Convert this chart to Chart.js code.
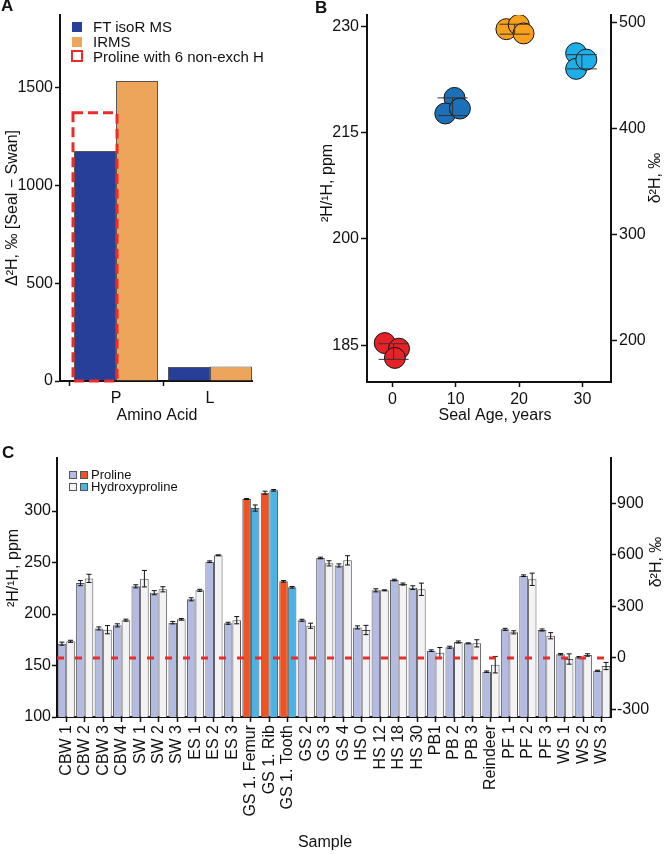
<!DOCTYPE html>
<html><head><meta charset="utf-8">
<script src="https://cdn.jsdelivr.net/npm/chart.js@4.4.1/dist/chart.umd.min.js"></script>
<style>
body{margin:0;width:666px;height:854px;position:relative;background:#fff;font-family:'Liberation Sans',Arial,sans-serif;overflow:hidden;color:#111}
canvas{position:absolute}
.abs{position:absolute;white-space:nowrap}
.letter{font-weight:bold;font-size:17px;line-height:17px}
.sq{position:absolute;box-sizing:border-box}
</style></head>
<body>
<canvas id="cA" width="280" height="430" style="left:0;top:0;width:280px;height:430px"></canvas>
<canvas id="cB" width="386" height="430" style="left:280px;top:0;width:386px;height:430px"></canvas>
<canvas id="cC" width="666" height="424" style="left:0;top:430px;width:666px;height:424px"></canvas>

<div class="abs letter" style="left:1px;top:-3px">A</div>
<div class="abs letter" style="left:315px;top:-1px">B</div>
<div class="abs letter" style="left:2px;top:444px">C</div>

<!-- Legend A -->
<div class="sq" style="left:72px;top:22px;width:10px;height:10px;background:#283f99"></div>
<div class="sq" style="left:72px;top:37px;width:10px;height:10px;background:#eda55c"></div>
<div class="sq" style="left:71px;top:50px;width:12px;height:12px;border:2px dashed #ee2a2a"></div>
<div class="abs" style="left:93px;top:18px;font-size:15px;line-height:18px">FT isoR MS</div>
<div class="abs" style="left:93px;top:33px;font-size:15px;line-height:18px">IRMS</div>
<div class="abs" style="left:93px;top:48px;font-size:15px;line-height:18px">Proline with 6 non-exch H</div>

<!-- Legend C -->
<div class="sq" style="left:69px;top:471px;width:8px;height:8px;background:#b4bbe2;border:1px solid #555"></div>
<div class="sq" style="left:80px;top:471px;width:8px;height:8px;background:#f05323;border:1px solid #555"></div>
<div class="sq" style="left:69px;top:483px;width:8px;height:8px;background:#f3f3f3;border:1px solid #555"></div>
<div class="sq" style="left:80px;top:483px;width:8px;height:8px;background:#4bb3e3;border:1px solid #555"></div>
<div class="abs" style="left:91px;top:468px;font-size:13px;line-height:14px">Proline</div>
<div class="abs" style="left:91px;top:480px;font-size:13px;line-height:14px">Hydroxyproline</div>

<script>
// ---------- Panel A data ----------
const aminoAcids = ['P', 'L'];
const ftIsoR = [1175, 72];
const irms = [1533, 74];
const prolineSixH = 1370;
const aTicks = [0, 500, 1000, 1500];

// ---------- Panel B data ----------
const age0x = [-1.2, 1.05, 0.4];
const age0y = [185.3, 184.5, 183.2];
const age10x = [9.8, 8.35, 10.66];
const age10y = [219.9, 217.7, 218.4];
const age20x = [18.0, 19.95, 20.7];
const age20y = [229.6, 230.2, 229.0];
const age30x = [29.0, 29.0, 30.6];
const age30y = [226.2, 224.0, 225.3];
const bMeanAge = [0.2, 9.5, 19.3, 29.9];
const bMeanPpm = [184.1, 218.65, 229.6, 225.0];
const bSd = [1.1, 1.25, 0.7, 1.0];
const bXTicks = [0, 10, 20, 30];
const bYTicks = [185, 200, 215, 230];
const bY2Ticks = [200, 300, 400, 500];

// ---------- Panel C data ----------
const samples = ['CBW 1','CBW 2','CBW 3','CBW 4','SW 1','SW 2','SW 3','ES 1','ES 2','ES 3',
  'GS 1. Femur','GS 1. Rib','GS 1. Tooth','GS 2','GS 3','GS 4','HS 0','HS 12','HS 18','HS 30',
  'PB1','PB 2','PB 3','Reindeer','PF 1','PF 2','PF 3','WS 1','WS 2','WS 3'];
const highlighted = ['GS 1. Femur','GS 1. Rib','GS 1. Tooth'];
const prolinePpm = [171.2,230,186,189,226.9,220.7,191.6,214.3,250.8,191,
  311.7,317.8,231.7,193.9,254.4,247.2,187,223,233,225.6,
  164.4,167.7,171.5,144,185.1,237.2,184.5,160.9,158,144.9];
const prolineErr = [1.5,2.5,1.5,1.5,1.5,2,1.2,1.5,0.8,1,
  0.5,1.5,0.8,1,0.8,1.5,1.5,1.5,0.8,1.8,
  0.8,1,0.5,0.7,1,0.8,1,0.7,0.7,0.5];
const hypPpm = [173.5,234.6,184.8,194,234.3,224,194.8,223,257,194,
  302.9,320.1,225.9,188.6,249.2,252.1,184.5,223,229.1,224,
  162.5,172.8,171.5,150.8,182.2,233.7,178.9,156.3,160.2,149.5];
const hypErr = [1,4,4,1,8,2.5,0.8,1,0.5,3.5,
  3,0.8,0.8,2.5,2.5,4.5,4.5,0.5,1,6,
  5,1,3.5,8,1.5,6,3,5,1.2,3.5];
const cYTicks = [100, 150, 200, 250, 300];
const cY2Ticks = [-300, 0, 300, 600, 900];
const deltaRef = 0;

// ---------- common ----------
const FONT = "'Liberation Sans', Arial, sans-serif";
Chart.defaults.font.family = FONT;
Chart.defaults.color = '#111';
const INK = '#111';
const plain = v => String(v);

function fixedTicks(list) { return s => { s.ticks = list.map(v => ({ value: v })); }; }
function axisStyle(extra) {
  return Object.assign({
    grid: { display: true, drawOnChartArea: false, drawTicks: true, tickLength: 5, color: INK, tickWidth: 1.5 },
    border: { display: true, color: INK, width: 2 },
  }, extra);
}
function textPlugin(items) {
  return {
    id: 'texts',
    afterDraw(chart) {
      const ctx = chart.ctx;
      items.forEach(t => {
        ctx.save();
        ctx.translate(t.x, t.y);
        if (t.rot) ctx.rotate(t.rot);
        ctx.font = (t.size || 16) + 'px ' + FONT;
        ctx.fillStyle = INK;
        ctx.textAlign = 'center';
        ctx.textBaseline = 'middle';
        ctx.fillText(t.text, 0, 0);
        ctx.restore();
      });
    }
  };
}

// ---------- Panel A ----------
const boxPlugin = {
  id: 'prolineBox',
  afterDatasetsDraw(chart) {
    const bar = chart.getDatasetMeta(0).data[0];
    const p = bar.getProps(['x', 'width'], true);
    const y = chart.scales.y;
    const top = y.getPixelForValue(prolineSixH);
    const bottom = y.getPixelForValue(0);
    const ctx = chart.ctx;
    ctx.save();
    ctx.strokeStyle = '#ee2a2a';
    ctx.lineWidth = 3;
    ctx.setLineDash([10, 5]);
    ctx.strokeRect(p.x - p.width / 2 - 1, top, p.width + 2, bottom - top);
    ctx.restore();
  }
};
new Chart(document.getElementById('cA'), {
  type: 'bar',
  data: {
    datasets: [
      { label: 'FT isoR MS', data: ftIsoR.map((v, i) => ({ x: i + 1, y: v })), backgroundColor: '#283f99', borderColor: '#555', borderWidth: 1, categoryPercentage: 0.894, barPercentage: 1 },
      { label: 'IRMS', data: irms.map((v, i) => ({ x: i + 1, y: v })), backgroundColor: '#eda55c', borderColor: '#555', borderWidth: 1, categoryPercentage: 0.894, barPercentage: 1 }
    ]
  },
  options: {
    responsive: false, animation: false,
    layout: { padding: { top: 15, right: 28, left: 0, bottom: 0 } },
    plugins: { legend: { display: false }, tooltip: { enabled: false } },
    scales: {
      x: axisStyle({
        type: 'linear', offset: false, min: 0.404, max: 2.447,
        afterBuildTicks: fixedTicks([1, 2]),
        ticks: { callback: v => aminoAcids[v - 1], font: { size: 16 }, color: INK, padding: 3 },
        afterFit: s => { s.height = 49; }
      }),
      y: axisStyle({
        min: 0, max: 1870,
        afterBuildTicks: fixedTicks(aTicks),
        ticks: { callback: plain, font: { size: 16 }, color: INK, padding: 2 },
        afterFit: s => { s.width = 60; }
      })
    }
  },
  plugins: [boxPlugin, textPlugin([
    { text: 'Δ²H, ‰ [Seal − Swan]', x: 13, y: 208, rot: -Math.PI / 2, size: 16 },
    { text: 'Amino Acid', x: 157, y: 416, size: 16 }
  ])]
});

// ---------- Panel B ----------
const bErrPlugin = {
  id: 'bErr',
  afterDatasetsDraw(chart) {
    const xs = chart.scales.x, ys = chart.scales.y, ctx = chart.ctx;
    ctx.save();
    ctx.strokeStyle = '#333';
    ctx.lineWidth = 1;
    bMeanAge.forEach((a, i) => {
      const x = xs.getPixelForValue(a);
      const t = ys.getPixelForValue(bMeanPpm[i] + bSd[i]);
      const b = ys.getPixelForValue(bMeanPpm[i] - bSd[i]);
      ctx.beginPath();
      ctx.moveTo(x, t); ctx.lineTo(x, b);
      ctx.moveTo(x - 15, t); ctx.lineTo(x + 15, t);
      ctx.moveTo(x - 15, b); ctx.lineTo(x + 15, b);
      ctx.stroke();
    });
    ctx.restore();
  }
};
function pts(xs, ys) { return xs.map((x, i) => ({ x, y: ys[i] })); }
function scatterSet(label, xs, ys, color) {
  return { label, data: pts(xs, ys), backgroundColor: color, borderColor: '#111', borderWidth: 1, pointRadius: 10.5, pointHoverRadius: 10.5 };
}
new Chart(document.getElementById('cB'), {
  type: 'scatter',
  data: {
    datasets: [
      scatterSet('0', age0x, age0y, '#e42227'),
      scatterSet('10', age10x, age10y, '#1c70b8'),
      scatterSet('20', age20x, age20y, '#f7a11f'),
      scatterSet('30', age30x, age30y, '#1eaee8')
    ]
  },
  options: {
    responsive: false, animation: false,
    layout: { padding: { top: 15, right: 0, left: 0, bottom: 0 } },
    plugins: { legend: { display: false }, tooltip: { enabled: false } },
    scales: {
      x: axisStyle({
        type: 'linear', min: -4, max: 34.5,
        afterBuildTicks: fixedTicks(bXTicks),
        ticks: { callback: plain, font: { size: 16 }, color: INK, padding: 3 },
        afterFit: s => { s.height = 48; }
      }),
      y: axisStyle({
        type: 'linear', position: 'left', min: 179.8, max: 231.6,
        afterBuildTicks: fixedTicks(bYTicks),
        ticks: { callback: plain, font: { size: 16 }, color: INK, padding: 2 },
        grid: { display: true, drawOnChartArea: false, tickLength: 6, color: INK, tickWidth: 1.5 },
        afterFit: s => { s.width = 87; }
      }),
      y2: axisStyle({
        type: 'linear', position: 'right', display: true, min: 161.3, max: 507.3,
        afterBuildTicks: fixedTicks(bY2Ticks),
        ticks: { callback: plain, font: { size: 16 }, color: INK, padding: 2 },
        grid: { display: true, drawOnChartArea: false, tickLength: 6, color: INK, tickWidth: 1.5 },
        afterFit: s => { s.width = 55; }
      })
    }
  },
  plugins: [bErrPlugin, textPlugin([
    { text: '²H/¹H, ppm', x: 48, y: 183, rot: -Math.PI / 2, size: 16 },
    { text: 'δ²H, ‰', x: 376, y: 178, rot: -Math.PI / 2, size: 16 },
    { text: 'Seal Age, years', x: 215, y: 416, size: 16 }
  ])]
});

// ---------- Panel C ----------
const cErrPlugin = {
  id: 'cErr',
  afterDatasetsDraw(chart) {
    const ctx = chart.ctx;
    ctx.save();
    ctx.strokeStyle = '#111';
    ctx.lineWidth = 1;
    chart.data.datasets.forEach((ds, di) => {
      const meta = chart.getDatasetMeta(di);
      const ys = chart.scales[meta.yAxisID];
      meta.data.forEach((bar, i) => {
        const x = bar.getProps(['x'], true).x;
        const t = ys.getPixelForValue(ds.data[i] + ds.errors[i]);
        const b = ys.getPixelForValue(ds.data[i] - ds.errors[i]);
        ctx.beginPath();
        ctx.moveTo(x, t); ctx.lineTo(x, b);
        ctx.moveTo(x - 2.5, t); ctx.lineTo(x + 2.5, t);
        ctx.moveTo(x - 2.5, b); ctx.lineTo(x + 2.5, b);
        ctx.stroke();
      });
    });
    ctx.restore();
  }
};
const refLinePlugin = {
  id: 'refLine',
  afterDatasetsDraw(chart) {
    const y = chart.scales.y2.getPixelForValue(deltaRef);
    const a = chart.chartArea, ctx = chart.ctx;
    ctx.save();
    ctx.strokeStyle = '#ee2a2a';
    ctx.lineWidth = 3;
    ctx.setLineDash([7, 11]);
    ctx.beginPath();
    ctx.moveTo(a.left, y); ctx.lineTo(a.right, y);
    ctx.stroke();
    ctx.restore();
  }
};
new Chart(document.getElementById('cC'), {
  type: 'bar',
  data: {
    labels: samples,
    datasets: [
      { label: 'Proline', data: prolinePpm, errors: prolineErr, yAxisID: 'y',
        backgroundColor: c => highlighted.includes(samples[c.dataIndex]) ? '#f05323' : '#b4bbe2',
        borderColor: '#555', borderWidth: 1, categoryPercentage: 0.93, barPercentage: 1 },
      { label: 'Hydroxyproline', data: hypPpm, errors: hypErr, yAxisID: 'y',
        backgroundColor: c => highlighted.includes(samples[c.dataIndex]) ? '#4bb3e3' : '#f3f3f3',
        borderColor: '#555', borderWidth: 1, categoryPercentage: 0.93, barPercentage: 1 }
    ]
  },
  options: {
    responsive: false, animation: false,
    layout: { padding: { top: 28, right: 0, left: 0, bottom: 0 } },
    plugins: { legend: { display: false }, tooltip: { enabled: false } },
    scales: {
      x: axisStyle({
        grid: { display: true, drawOnChartArea: false, offset: false, tickLength: 5, color: INK, tickWidth: 1.5 },
        ticks: { autoSkip: false, minRotation: 90, maxRotation: 90, font: { size: 16 }, color: INK, padding: 3 },
        afterFit: s => { s.height = 137; }
      }),
      y: axisStyle({
        position: 'left', min: 100, max: 351.5,
        afterBuildTicks: fixedTicks(cYTicks),
        ticks: { callback: plain, font: { size: 16 }, color: INK, padding: 1 },
        afterFit: s => { s.width = 57; }
      }),
      y2: axisStyle({
        type: 'linear', position: 'right', display: true, min: -343.8, max: 1165,
        afterBuildTicks: fixedTicks(cY2Ticks),
        ticks: { callback: plain, font: { size: 16 }, color: INK, padding: 1 },
        afterFit: s => { s.width = 55; }
      })
    }
  },
  plugins: [cErrPlugin, refLinePlugin, textPlugin([
    { text: '²H/¹H, ppm', x: 14, y: 138, rot: -Math.PI / 2, size: 16 },
    { text: 'δ²H, ‰', x: 657, y: 132, rot: -Math.PI / 2, size: 16 },
    { text: 'Sample', x: 325, y: 413, size: 16 }
  ])]
});
</script>
</body></html>
